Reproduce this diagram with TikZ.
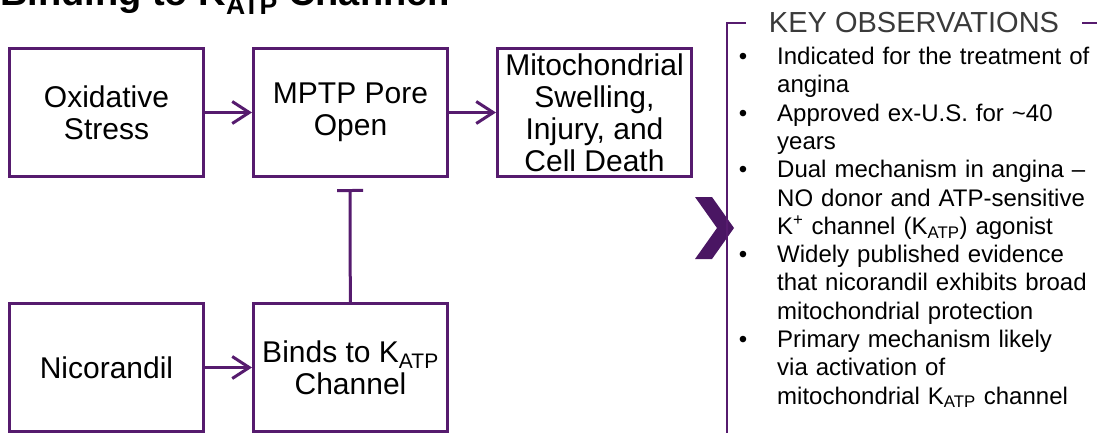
\documentclass[tikz,border=0pt]{standalone}
\usepackage{fontspec}
\setmainfont{Liberation Sans}
\usepackage{enumitem}
\usetikzlibrary{arrows.meta,positioning}
\definecolor{plum}{HTML}{561B6E}
\definecolor{darkplum}{HTML}{4A1663}
\definecolor{keygray}{HTML}{3A3A3A}
\begin{document}
\begin{tikzpicture}[x=1pt,y=-1pt,node distance=124pt and 47pt,
  box/.style={draw=plum,line width=3pt,minimum width=194pt,minimum height=128pt,inner xsep=2pt,inner ysep=0pt,align=center,font=\fontsize{30}{32}\selectfont},
  flow/.style={draw=plum,line width=3pt,-{Straight Barb[length=17pt,width=22pt]}},
  block/.style={draw=plum,line width=3pt,-{Bar[width=26pt]}},
  bracket/.style={draw=plum,line width=2pt}]
\useasboundingbox (0,0) rectangle (1097,432);
\node[anchor=base west,inner sep=0pt,font=\fontsize{38}{38}\selectfont\bfseries] (title) at (0,5) {Binding to K\textsubscript{ATP} Channel:};
\node[box] (oxid) at (106.5,112.5) {Oxidative\\Stress};
\node[box,right=of oxid] (mptp) {MPTP Pore\\Open};
\node[box,right=of mptp] (mito) {Mitochondrial\\Swelling,\\Injury, and\\Cell Death};
\node[box,below=of oxid] (nico) {Nicorandil};
\node[box,below=of mptp] (binds) {Binds to K\textsubscript{ATP}\\Channel};
\coordinate (stop) at (350,189);
\draw[flow] (oxid)--(mptp); \draw[flow] (mptp)--(mito); \draw[flow] (nico)--(binds);
\draw[block] (binds)--(stop);
\fill[darkplum] (695,197)--(712,197)--(734,228)--(712,259)--(695,259)--(717,228)--cycle;
\node[inner sep=0pt,text=keygray,font=\fontsize{29}{29}\selectfont] (keyhead) at (914,22.5) {KEY OBSERVATIONS};
\coordinate (brtop) at (727,23); \coordinate (brbot) at (727,440); \coordinate (brright) at (1100,23);
\draw[bracket] ([xshift=-23pt]keyhead.west |- brtop)--(brtop)--(brbot);
\draw[bracket] ([xshift=23pt]keyhead.east |- brtop)--(brright);
\node[anchor=north west,inner sep=0pt,text width=360pt,align=left,font=\fontsize{24}{28.3}\selectfont] (obs) at (739,36) {%
\begin{itemize}[nosep,leftmargin=38pt,labelwidth=8pt,labelsep=30pt]
\item Indicated for the treatment of\\angina
\item Approved ex-U.S. for \textasciitilde40\\years
\item Dual mechanism in angina --\\NO donor and ATP-sensitive\\K\textsuperscript{+} channel (K\textsubscript{ATP}) agonist
\item Widely published evidence\\that nicorandil exhibits broad\\mitochondrial protection
\item Primary mechanism likely\\via activation of\\mitochondrial K\textsubscript{ATP} channel
\end{itemize}};
\end{tikzpicture}
\end{document}
